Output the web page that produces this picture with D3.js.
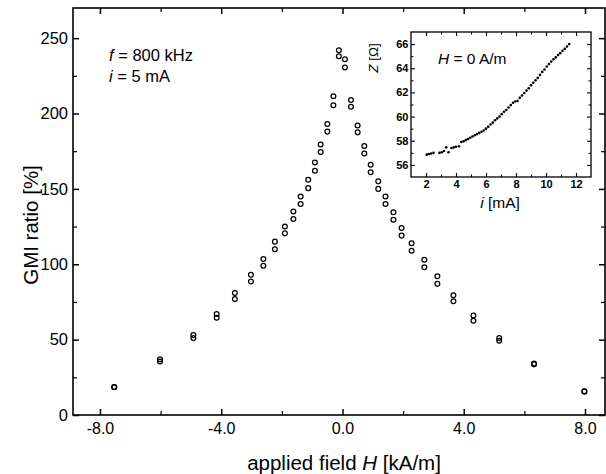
<!DOCTYPE html>
<html><head><meta charset="utf-8">
<script src="https://cdn.jsdelivr.net/npm/d3@7/dist/d3.min.js"></script>
<style>
html,body{margin:0;padding:0;background:#fff;}
svg{display:block;font-family:"Liberation Sans",Arial,sans-serif;}
</style></head>
<body>
<svg id="c" width="606" height="474"></svg>
<script>
// Main chart data: applied field H [kA/m] and GMI ratio [%] for two sweeps
const fieldH = [-7.53,-6.02,-4.92,-4.15,-3.55,-3.02,-2.61,-2.23,-1.90,-1.62,-1.38,-1.13,-0.91,-0.72,-0.50,-0.30,-0.12,
                0.08,0.28,0.50,0.72,0.93,1.18,1.42,1.68,1.95,2.28,2.70,3.13,3.66,4.32,5.17,6.32,7.98];
const gmiSweepA = [18.6,37,53,67,81,93,103.5,115,125,135,145,156,167.5,179.5,193,211.5,242,
                   236,209,192,178.5,166,155,145,134.5,124,114,103,92,79.5,66,51,34.2,15.8];
const gmiSweepB = [18.4,35.5,51,64.5,77,88.5,99,110,120.5,130,140,150.5,162,174.5,188,205.5,238,
                   230.5,204.5,187.5,173.5,161,150,140,129.5,119,109,98,87,75.5,62.5,49.2,33.6,15.5];
const xTickLabels = ["-8.0","-4.0","0.0","4.0","8.0"];
const yTickLabels = ["0","50","100","150","200","250"];

// Inset data: current i [mA] and impedance Z [Ohm] at H = 0
const insetI = [2.05,2.2,2.35,2.5,2.9,3.05,3.2,3.35,3.5,3.7,3.85,4.0,4.2,4.35,4.5,4.65,4.8,4.95,5.1,5.25,5.4,5.55,5.7,5.85,
                6.0,6.15,6.3,6.45,6.6,6.75,6.9,7.05,7.2,7.35,7.5,7.65,7.8,7.95,8.1,8.25,8.4,8.55,8.7,8.85,9.0,9.15,9.3,
                9.45,9.6,9.75,9.9,10.05,10.2,10.35,10.5,10.65,10.8,10.95,11.1,11.25,11.4,11.55];
const insetZ = [56.85,56.9,56.95,57.0,57.0,57.05,57.15,57.45,57.05,57.4,57.45,57.5,57.55,57.9,57.95,58.05,58.15,58.25,58.35,58.45,58.55,58.65,58.75,58.85,
                59.0,59.15,59.35,59.5,59.7,59.85,60.0,60.2,60.4,60.55,60.75,60.95,61.15,61.25,61.3,61.55,61.75,61.95,62.15,62.35,62.6,62.8,63.0,
                63.2,63.45,63.7,63.9,64.15,64.35,64.55,64.75,64.9,65.1,65.25,65.45,65.6,65.8,66.0];
const insetXTicks = ["2","4","6","8","10","12"];
const insetYTicks = ["56","58","60","62","64","66"];

const svg = d3.select("#c");
const L=73, R=605, T=8, B=415;
const x = d3.scaleLinear().domain([-8.89, 8.66]).range([L, R]);
const y = d3.scaleLinear().domain([0, 270]).range([B, T]);

function styleAxis(g, w){
  g.selectAll(".domain").remove();
  g.selectAll("line").attr("stroke","#000").attr("stroke-width",w);
}

// Frame
svg.append("rect").attr("x",L).attr("y",T).attr("width",R-L).attr("height",B-T)
  .attr("fill","none").attr("stroke","#000").attr("stroke-width",1.6);

const xMajor = xTickLabels.map(Number);
const xMinor = [-6,-2,2,6];
const yMajor = yTickLabels.map(Number);
const yMinor = [25,75,125,175,225];

// bottom axis
const gx = svg.append("g").attr("transform",`translate(0,${B})`)
  .call(d3.axisBottom(x).tickValues(xMajor).tickSizeInner(-6).tickSizeOuter(0).tickPadding(8).tickFormat((d,i)=>xTickLabels[i]));
styleAxis(gx,1.5);
gx.selectAll("text").attr("font-size",16).attr("fill","#000");
svg.append("g").attr("transform",`translate(0,${B})`)
  .call(d3.axisBottom(x).tickValues(xMinor).tickSizeInner(-4).tickSizeOuter(0).tickFormat(""))
  .call(g=>styleAxis(g,1.2));
// top axis
svg.append("g").attr("transform",`translate(0,${T})`)
  .call(d3.axisTop(x).tickValues(xMajor).tickSizeInner(-6).tickSizeOuter(0).tickFormat(""))
  .call(g=>styleAxis(g,1.5));
svg.append("g").attr("transform",`translate(0,${T})`)
  .call(d3.axisTop(x).tickValues(xMinor).tickSizeInner(-4).tickSizeOuter(0).tickFormat(""))
  .call(g=>styleAxis(g,1.2));
// left axis
const gy = svg.append("g").attr("transform",`translate(${L},0)`)
  .call(d3.axisLeft(y).tickValues(yMajor).tickSizeInner(-6).tickSizeOuter(0).tickPadding(5).tickFormat((d,i)=>yTickLabels[i]));
styleAxis(gy,1.5);
gy.selectAll("text").attr("font-size",16.5).attr("fill","#000");
svg.append("g").attr("transform",`translate(${L},0)`)
  .call(d3.axisLeft(y).tickValues(yMinor).tickSizeInner(-4).tickSizeOuter(0).tickFormat(""))
  .call(g=>styleAxis(g,1.2));
// right axis
svg.append("g").attr("transform",`translate(${R},0)`)
  .call(d3.axisRight(y).tickValues(yMajor).tickSizeInner(-6).tickSizeOuter(0).tickFormat(""))
  .call(g=>styleAxis(g,1.5));
svg.append("g").attr("transform",`translate(${R},0)`)
  .call(d3.axisRight(y).tickValues(yMinor).tickSizeInner(-4).tickSizeOuter(0).tickFormat(""))
  .call(g=>styleAxis(g,1.2));

// Axis titles
svg.append("text").attr("transform","translate(38,225) rotate(-90)").attr("text-anchor","middle")
  .attr("font-size",20.5).attr("fill","#000").text("GMI ratio [%]");
const xt = svg.append("text").attr("x",344).attr("y",470).attr("text-anchor","middle")
  .attr("font-size",20.5).attr("fill","#000");
xt.append("tspan").text("applied field ");
xt.append("tspan").attr("font-style","italic").text("H");
xt.append("tspan").text(" [kA/m]");

// Annotations
const a1 = svg.append("text").attr("x",109).attr("y",61).attr("font-size",16.5).attr("fill","#000");
a1.append("tspan").attr("font-style","italic").text("f");
a1.append("tspan").text(" = 800 kHz");
const a2 = svg.append("text").attr("x",109).attr("y",82).attr("font-size",16.5).attr("fill","#000");
a2.append("tspan").attr("font-style","italic").text("i");
a2.append("tspan").text(" = 5 mA");

// Data points
const pts = [];
fieldH.forEach((h,i)=>{ pts.push([h,gmiSweepA[i]]); pts.push([h,gmiSweepB[i]]); });
svg.append("g").selectAll("circle").data(pts).join("circle")
  .attr("cx",d=>x(d[0])).attr("cy",d=>y(d[1])).attr("r",2.4)
  .attr("fill","none").attr("stroke","#000").attr("stroke-width",1.25);

// ---- Inset ----
const iL=411, iR=591, iT=32, iB=177;
const xi = d3.scaleLinear().domain([1,13]).range([iL,iR]);
const yi = d3.scaleLinear().domain([55,67]).range([iB,iT]);
svg.append("rect").attr("x",iL).attr("y",iT).attr("width",iR-iL).attr("height",iB-iT)
  .attr("fill","#fff").attr("stroke","#000").attr("stroke-width",1.3);
const ixMaj = insetXTicks.map(Number), iyMaj = insetYTicks.map(Number);
const ixMin = [3,5,7,9,11], iyMin=[57,59,61,63,65];
const gix = svg.append("g").attr("transform",`translate(0,${iB})`)
  .call(d3.axisBottom(xi).tickValues(ixMaj).tickSizeInner(-4).tickSizeOuter(0).tickPadding(3).tickFormat((d,i)=>insetXTicks[i]));
styleAxis(gix,1.1);
gix.selectAll("text").attr("font-size",11).attr("font-weight","bold").attr("fill","#000");
svg.append("g").attr("transform",`translate(0,${iB})`)
  .call(d3.axisBottom(xi).tickValues(ixMin).tickSizeInner(-2.5).tickSizeOuter(0).tickFormat("")).call(g=>styleAxis(g,1));
svg.append("g").attr("transform",`translate(0,${iT})`)
  .call(d3.axisTop(xi).tickValues(ixMaj).tickSizeInner(-4).tickSizeOuter(0).tickFormat("")).call(g=>styleAxis(g,1.1));
svg.append("g").attr("transform",`translate(0,${iT})`)
  .call(d3.axisTop(xi).tickValues(ixMin).tickSizeInner(-2.5).tickSizeOuter(0).tickFormat("")).call(g=>styleAxis(g,1));
const giy = svg.append("g").attr("transform",`translate(${iL},0)`)
  .call(d3.axisLeft(yi).tickValues(iyMaj).tickSizeInner(-4).tickSizeOuter(0).tickPadding(2.5).tickFormat((d,i)=>insetYTicks[i]));
styleAxis(giy,1.1);
giy.selectAll("text").attr("font-size",11).attr("font-weight","bold").attr("fill","#000");
svg.append("g").attr("transform",`translate(${iL},0)`)
  .call(d3.axisLeft(yi).tickValues(iyMin).tickSizeInner(-2.5).tickSizeOuter(0).tickFormat("")).call(g=>styleAxis(g,1));
svg.append("g").attr("transform",`translate(${iR},0)`)
  .call(d3.axisRight(yi).tickValues(iyMaj).tickSizeInner(-4).tickSizeOuter(0).tickFormat("")).call(g=>styleAxis(g,1.1));
svg.append("g").attr("transform",`translate(${iR},0)`)
  .call(d3.axisRight(yi).tickValues(iyMin).tickSizeInner(-2.5).tickSizeOuter(0).tickFormat("")).call(g=>styleAxis(g,1));

svg.append("g").selectAll("circle").data(insetI).join("circle")
  .attr("cx",d=>xi(d)).attr("cy",(d,i)=>yi(insetZ[i])).attr("r",1.3).attr("fill","#000");

const zl = svg.append("text").attr("transform","translate(378,58) rotate(-90)").attr("text-anchor","middle")
  .attr("font-size",13.5).attr("fill","#000");
zl.append("tspan").attr("font-style","italic").text("Z");
zl.append("tspan").text(" [Ω]");
const hl = svg.append("text").attr("x",438).attr("y",64).attr("font-size",15.5).attr("fill","#000");
hl.append("tspan").attr("font-style","italic").text("H");
hl.append("tspan").text(" = 0 A/m");
const il = svg.append("text").attr("x",500).attr("y",208).attr("text-anchor","middle").attr("font-size",15.5).attr("fill","#000");
il.append("tspan").attr("font-style","italic").text("i");
il.append("tspan").text(" [mA]");
</script>
</body></html>
